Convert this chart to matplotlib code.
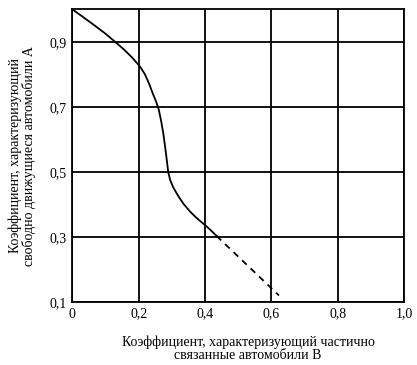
import matplotlib
matplotlib.use("Agg")
import matplotlib.pyplot as plt

# solid part of the curve
x_solid = [0.0, 0.03, 0.065, 0.10, 0.129, 0.155, 0.18, 0.204, 0.219, 0.232, 0.243,
           0.253, 0.261, 0.268, 0.274, 0.28, 0.285, 0.289, 0.295, 0.304, 0.318,
           0.335, 0.355, 0.375, 0.39, 0.403, 0.42, 0.435]
y_solid = [1.0, 0.978, 0.952, 0.925, 0.90, 0.877, 0.852, 0.824, 0.80, 0.77, 0.74,
           0.715, 0.69, 0.655, 0.62, 0.575, 0.535, 0.50, 0.475, 0.453, 0.428,
           0.402, 0.378, 0.358, 0.345, 0.334, 0.318, 0.303]
# dashed extrapolation
x_dash = [0.435, 0.623]
y_dash = [0.303, 0.12]

x_ticks = [0, 0.2, 0.4, 0.6, 0.8, 1.0]
x_labels = ["0", "0,2", "0,4", "0,6", "0,8", "1,0"]
y_ticks = [0.1, 0.3, 0.5, 0.7, 0.9]
y_labels = ["0,1", "0,3", "0,5", "0,7", "0,9"]

plt.rcParams.update({'font.family': 'Liberation Serif', 'font.size': 10})

fig = plt.figure(figsize=(4.17, 3.65), dpi=100)
ax = fig.add_axes([0.1734, 0.1726, 0.7956, 0.8019])

ax.plot(x_solid, y_solid, color="black", lw=1.3)
ax.plot(x_dash, y_dash, color="black", lw=1.3, ls=(0, (3.5, 3)))

ax.set_xlim(0, 1.0)
ax.set_ylim(0.1, 1.0)
ax.set_xticks(x_ticks)
ax.set_xticklabels(x_labels)
ax.set_yticks(y_ticks)
ax.set_yticklabels(y_labels)
ax.tick_params(length=0, pad=4, labelsize=10)
ax.grid(True, color="black", lw=1.3)
for s in ax.spines.values():
    s.set_linewidth(1.3)

ax.set_xlabel("Коэффициент, характеризующий частично\nсвязанные автомобили В",
              fontsize=10, labelpad=11, x=0.53, linespacing=1.0)
ax.set_ylabel("Коэффициент, характеризующий\nсвободно движущиеся автомобили А",
              fontsize=10, labelpad=10, linespacing=1.0)

fig.savefig("out.png", dpi=100)
